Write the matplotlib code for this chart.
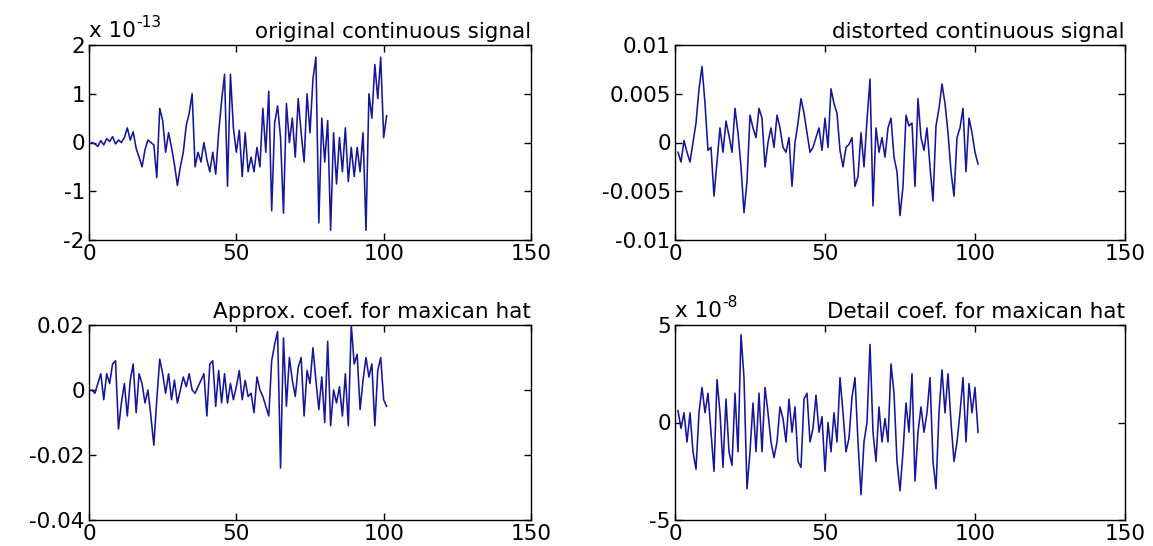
import numpy as np
import matplotlib
matplotlib.use("Agg")
import matplotlib.pyplot as plt
from matplotlib.ticker import FixedLocator, FuncFormatter

# ---------------- data ----------------
# original continuous signal, units of 1e-13
orig_e13 = [
    0.00, -0.03, -0.08, 0.04, -0.05, 0.08, 0.02, 0.12, -0.03, 0.05,
    0.00, 0.10, 0.30, 0.05, 0.22, -0.12, -0.30, -0.50, -0.15, 0.05,
    0.00, -0.05, -0.72, 0.70, 0.45, -0.20, 0.20, -0.10, -0.45, -0.88,
    -0.50, -0.20, 0.35, 0.60, 1.00, -0.50, -0.20, -0.40, 0.00, -0.35,
    -0.60, -0.20, -0.65, 0.20, 0.85, 1.40, -0.90, 1.40, 0.30, -0.20,
    0.25, -0.70, 0.20, -0.60, -0.30, -0.60, -0.10, -0.50, 0.70, -0.20,
    1.05, -1.40, 0.40, 0.75, 0.10, -1.45, 0.80, 0.00, 0.50, -0.30,
    0.90, 0.20, -0.40, 1.00, 0.20, 1.30, 1.75, -1.65, 0.50, -0.40,
    0.45, -1.80, 0.20, -0.85, 0.10, -0.60, 0.30, -0.80, -0.10, -0.70,
    -0.10, -0.60, 0.20, -1.80, 1.00, 0.50, 1.60, 0.90, 1.75, 0.10, 0.55,
]

# distorted continuous signal, units of 1e-3
dist_e3 = [
    -1.0, -2.0, 0.2, -1.0, -2.0, 0.0, 2.0, 5.5, 7.8, 4.0,
    -0.8, -0.5, -5.5, -2.0, 1.5, -1.0, 2.2, 0.7, -1.0, 3.5,
    1.0, -2.5, -7.2, -4.0, 2.8, 1.5, 0.5, 3.5, 2.5, -2.5,
    0.0, 1.5, -0.5, 2.8, 1.5, -0.5, -1.0, 0.5, -4.5, 0.0,
    2.0, 4.5, 3.0, 1.0, -1.0, -0.5, 0.5, 1.5, -0.8, 2.5,
    -0.5, 5.5, 4.0, 3.0, -0.8, -2.5, -0.5, -0.2, 0.5, -4.5,
    -3.5, 1.0, -2.5, 2.3, 6.5, -6.5, 1.5, -1.0, 0.5, -1.5,
    1.5, 2.5, -1.5, -3.0, -7.5, -4.5, 2.8, 1.7, 2.0, -4.5,
    4.5, 0.5, -0.8, 1.5, -2.5, -6.0, 1.7, 3.5, 6.0, 4.0,
    1.0, -3.0, -5.5, 0.5, 1.5, 3.5, -3.0, 2.5, 1.0, -1.0, -2.2,
]

# approximation coefficients, units of 1e-3
approx_e3 = [
    0, -1, 2, 5, -3, 5, 2, 8, 9, -12,
    -4, 2, -8, 3, 8, -7, 5, 2, -4, 0,
    -8, -17, -3, 9.5, 5, -1, 5, -3, 3, -4,
    0, 4, 1, 5, 0, -1, 1, 3, 5, -8,
    8, 9, -5, 6, -4, 5, -4, 2, -3, 1,
    6, -3, 3, -2, -1, -7, 4, 0, -2, -5,
    -8, 9, 14, 18, -24, 16, -5, 10, 3, -2,
    7, 10, -8, 6, 2, 13, 3, -6, 4, -10,
    15, -11, 0, -4, 1, -8, 5, -11, 20, 8,
    11, -6, 3, 10, 4, 8, -11, 6, 10, -3, -5,
]

# detail coefficients, units of 1e-8
detail_e8 = [
    0.6, -0.3, 0.5, -1.0, 0.5, -1.5, -2.4, 0.5, 1.8, 0.5,
    1.5, -0.5, -2.5, 2.2, 0.5, -2.3, 1.2, -1.5, -2.2, 1.5,
    -1.5, 4.5, 2.3, -3.4, -1.5, 1.0, -1.5, 1.5, -1.5, 1.8,
    0.5, -1.0, -1.8, -1.0, 0.8, 0.2, -1.0, 1.2, -0.5, 0.8,
    -2.0, -2.3, 1.2, 1.5, -1.0, -0.3, 1.4, -0.5, 0.3, -2.5,
    0.0, -1.5, 0.5, -1.0, 2.3, 0.5, -1.5, -0.8, 1.3, 2.3,
    -1.0, -3.7, -1.0, 0.0, 4.0, -0.5, -2.0, 0.8, -1.0, 0.2,
    -1.0, 3.0, 1.5, -2.0, -3.5, -1.5, 1.0, -0.5, 2.5, -3.0,
    -0.5, 0.8, -0.5, 0.5, 2.3, -2.0, -3.4, 0.5, 2.7, 0.5,
    2.5, 0.0, -2.0, -1.0, 0.5, 2.3, -1.0, 2.0, 0.5, 1.8, -0.5,
]

x_ticks = [0, 50, 100, 150]
titles = ["original continuous signal", "distorted continuous signal",
          "Approx. coef. for maxican hat", "Detail coef. for maxican hat"]
exponents = ["-13", None, None, "-8"]
y_ticks = [[-2, -1, 0, 1, 2],
           [-0.01, -0.005, 0, 0.005, 0.01],
           [-0.04, -0.02, 0, 0.02],
           [-5, 0, 5]]
series = [np.array(orig_e13), np.array(dist_e3) * 1e-3,
          np.array(approx_e3) * 1e-3, np.array(detail_e8)]

# ---------------- figure ----------------
plt.rcParams["font.family"] = ["DejaVu Sans"]
W, H = 1153, 546
fig = plt.figure(figsize=(W / 100, H / 100), dpi=100)
fig.patch.set_facecolor("white")

# pixel boxes: left, top, width, height
boxes = [(89, 45, 442, 195), (675, 45, 450, 195),
         (89, 325, 442, 195), (675, 325, 450, 195)]

FS = 15.5
line_color = "#16169a"

for i, (l, t, w, h) in enumerate(boxes):
    ax = fig.add_axes([l / W, 1 - (t + h) / H, w / W, h / H])
    y = series[i]
    xs = np.arange(1, len(y) + 1)
    ax.plot(xs, y, color=line_color, lw=1.15)
    ax.set_xlim(0, 150)
    ax.set_ylim(y_ticks[i][0], y_ticks[i][-1])
    ax.xaxis.set_major_locator(FixedLocator(x_ticks))
    ax.yaxis.set_major_locator(FixedLocator(y_ticks[i]))
    ax.yaxis.set_major_formatter(FuncFormatter(lambda v, p: f"{v:g}"))
    ax.xaxis.set_major_formatter(FuncFormatter(lambda v, p: f"{v:g}"))
    ax.tick_params(direction="in", top=True, right=True, length=5,
                   width=1.0, labelsize=FS, colors="black", pad=3)
    for s in ax.spines.values():
        s.set_linewidth(1.0)
        s.set_color("black")
    ax.set_title(titles[i], loc="right", fontsize=FS, pad=5)
    if exponents[i] is not None:
        base = ax.text(0.0, 1.02, "x 10", transform=ax.transAxes,
                       ha="left", va="bottom", fontsize=FS)
        ax.annotate(exponents[i], xy=(1.0, 0.55), xycoords=base,
                    ha="left", va="bottom", fontsize=FS * 0.72)

fig.savefig("out.png", dpi=100, facecolor="white")
